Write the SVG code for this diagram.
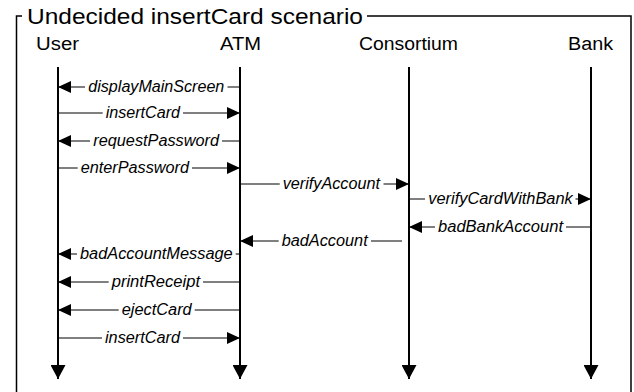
<svg xmlns="http://www.w3.org/2000/svg" width="634" height="392" viewBox="0 0 634 392">
<style>
.title{font-family:"Liberation Sans",Arial,sans-serif;font-size:22px;fill:#000}
.lbl{font-family:"Liberation Sans",Arial,sans-serif;font-size:18px;fill:#000;text-anchor:middle}
.msg{font-family:"Liberation Sans",Arial,sans-serif;font-size:16px;font-style:italic;fill:#000}
.frame{fill:none;stroke:#000;stroke-width:1.5}
.life{fill:none;stroke:#000;stroke-width:2;marker-end:url(#lifeArrow)}
.m{fill:none;stroke:#000;stroke-width:1;marker-end:url(#msgArrow)}
</style>
<defs>
<marker id="msgArrow" markerUnits="userSpaceOnUse" markerWidth="13" markerHeight="12" refX="13" refY="6" orient="auto">
<path d="M0,0 L13,6 L0,12 Z" fill="#000"/>
</marker>
<marker id="lifeArrow" markerUnits="userSpaceOnUse" markerWidth="14" markerHeight="15" refX="14" refY="7.5" orient="auto">
<path d="M0,0 L14,7.5 L0,15 Z" fill="#000"/>
</marker>
</defs>
<rect width="634" height="392" fill="#fff"/>
<g id="frame">
<path class="frame" d="M16.5,392 V16 H22 M367,16 H631 V392"/>
<text class="title" x="27" y="24" textLength="336" lengthAdjust="spacingAndGlyphs">Undecided insertCard scenario</text>
</g>
<g id="User">
<text class="lbl" x="57.5" y="50" textLength="43" lengthAdjust="spacingAndGlyphs">User</text>
<line class="life" x1="58" y1="67" x2="58" y2="379"/>
</g>
<g id="ATM">
<text class="lbl" x="240.5" y="50" textLength="41" lengthAdjust="spacingAndGlyphs">ATM</text>
<line class="life" x1="240" y1="67" x2="240" y2="379"/>
</g>
<g id="Consortium">
<text class="lbl" x="408.5" y="50" textLength="99" lengthAdjust="spacingAndGlyphs">Consortium</text>
<line class="life" x1="409" y1="67" x2="409" y2="379"/>
</g>
<g id="Bank">
<text class="lbl" x="590.5" y="50" textLength="45" lengthAdjust="spacingAndGlyphs">Bank</text>
<line class="life" x1="591" y1="67" x2="591" y2="379"/>
</g>
<g id="connectors">
<path class="m" d="M240,87 H227.5 M85,87 H58"/>
<text class="msg" x="88.3" y="92" textLength="136" lengthAdjust="spacingAndGlyphs">displayMainScreen</text>
<path class="m" d="M58,113 H102.7 M183,113 H240"/>
<text class="msg" x="105.7" y="118" textLength="74.3" lengthAdjust="spacingAndGlyphs">insertCard</text>
<path class="m" d="M240,141 H222 M90,141 H58"/>
<text class="msg" x="93.3" y="146" textLength="125.7" lengthAdjust="spacingAndGlyphs">requestPassword</text>
<path class="m" d="M58,168 H77.7 M192,168 H240"/>
<text class="msg" x="80.7" y="173" textLength="108.3" lengthAdjust="spacingAndGlyphs">enterPassword</text>
<path class="m" d="M240,184 H279.7 M383.5,184 H409"/>
<text class="msg" x="282.7" y="189" textLength="97.3" lengthAdjust="spacingAndGlyphs">verifyAccount</text>
<path class="m" d="M409,199 H425 M575.5,199 H591"/>
<text class="msg" x="428.3" y="204" textLength="144.4" lengthAdjust="spacingAndGlyphs">verifyCardWithBank</text>
<path class="m" d="M591,227 H566 M435,227 H409"/>
<text class="msg" x="438" y="232" textLength="125" lengthAdjust="spacingAndGlyphs">badBankAccount</text>
<path class="m" d="M402,241 H371 M278.7,241 H240"/>
<text class="msg" x="281.7" y="246" textLength="86" lengthAdjust="spacingAndGlyphs">badAccount</text>
<path class="m" d="M240,254 H235.7 M77,254 H58"/>
<text class="msg" x="80" y="259" textLength="152.7" lengthAdjust="spacingAndGlyphs">badAccountMessage</text>
<path class="m" d="M240,282 H203 M108.7,282 H58"/>
<text class="msg" x="111.7" y="287" textLength="88.3" lengthAdjust="spacingAndGlyphs">printReceipt</text>
<path class="m" d="M240,310 H194.7 M118.7,310 H58"/>
<text class="msg" x="121.7" y="315" textLength="70" lengthAdjust="spacingAndGlyphs">ejectCard</text>
<path class="m" d="M58,338 H102 M183,338 H240"/>
<text class="msg" x="105" y="343" textLength="75" lengthAdjust="spacingAndGlyphs">insertCard</text>
</g>
</svg>
